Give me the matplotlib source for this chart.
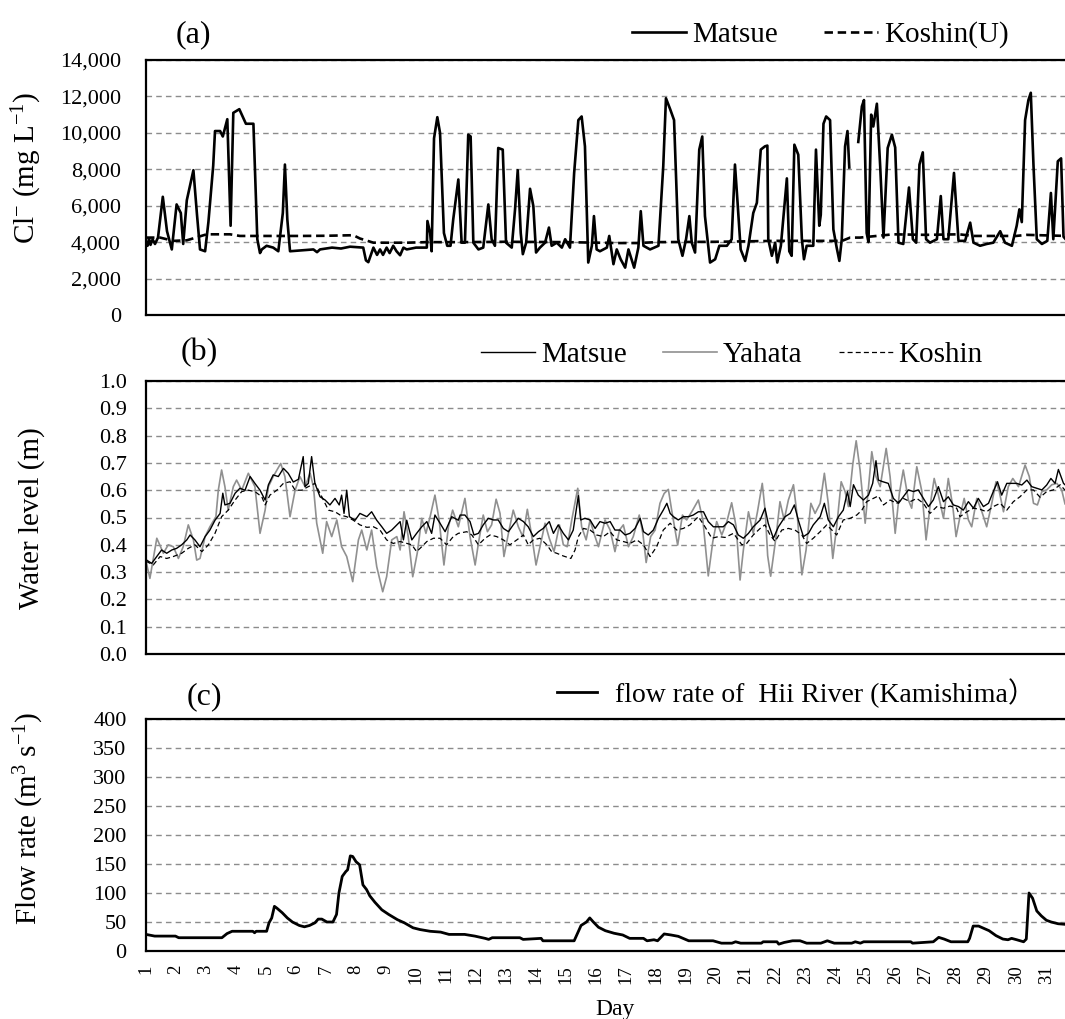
import numpy as np
import matplotlib
matplotlib.use('Agg')
import matplotlib.pyplot as plt

plt.rcParams['font.family'] = ['Liberation Serif', 'Noto Sans CJK JP']
plt.rcParams['mathtext.fontset'] = 'custom'
plt.rcParams['mathtext.rm'] = 'Liberation Serif'
plt.rcParams['mathtext.it'] = 'Liberation Serif:italic'

# ==========================================
# DATA  (day of month, value)
# ==========================================

DAY_TICKS = list(range(1, 32))
DAY_LIMITS = (1.0, 31.63)

CL_TICKS = [0, 2000, 4000, 6000, 8000, 10000, 12000, 14000]
CL_LABELS = ['0', '2,000', '4,000', '6,000', '8,000', '10,000', '12,000', '14,000']
WL_TICKS = [0.0, 0.1, 0.2, 0.3, 0.4, 0.5, 0.6, 0.7, 0.8, 0.9, 1.0]
WL_LABELS = ['0.0', '0.1', '0.2', '0.3', '0.4', '0.5', '0.6', '0.7', '0.8', '0.9', '1.0']
FLOW_TICKS = [0, 50, 100, 150, 200, 250, 300, 350, 400]
FLOW_LABELS = ['0', '50', '100', '150', '200', '250', '300', '350', '400']

# (a) chloride, mg/L
cl_matsue = [
    (1.00, 4000), (1.05, 3800), (1.10, 4200), (1.15, 3850), (1.22, 4150), (1.30, 3900),
    (1.40, 4250), (1.56, 6490), (1.70, 4600), (1.86, 3600), (2.02, 6070), (2.16, 5600),
    (2.24, 3900), (2.36, 6300), (2.58, 7950), (2.70, 5500), (2.80, 3600), (2.97, 3500),
    (3.08, 5100), (3.24, 8200), (3.30, 10100), (3.47, 10100), (3.56, 9800), (3.71, 10750),
    (3.82, 4900), (3.91, 11100), (4.11, 11300), (4.25, 10800), (4.33, 10500), (4.58, 10500),
    (4.71, 4160), (4.80, 3400), (4.86, 3600), (5.02, 3800), (5.24, 3700), (5.41, 3500),
    (5.56, 5600), (5.63, 8260), (5.71, 5250), (5.80, 3500), (6.20, 3550), (6.58, 3600),
    (6.70, 3450), (6.80, 3600), (7.20, 3700), (7.50, 3650), (7.80, 3750), (8.24, 3700),
    (8.33, 3000), (8.41, 2900), (8.58, 3700), (8.70, 3300), (8.80, 3600), (8.90, 3300),
    (9.02, 3700), (9.12, 3400), (9.24, 3800), (9.35, 3500), (9.47, 3280), (9.58, 3700),
    (9.69, 3600), (10.00, 3700), (10.36, 3700), (10.38, 5160), (10.47, 4500), (10.52, 3500),
    (10.60, 9700), (10.71, 10860), (10.80, 10000), (10.93, 4500), (11.04, 3800), (11.15, 3800),
    (11.24, 5250), (11.41, 7440), (11.52, 3970), (11.63, 3970), (11.74, 9900), (11.82, 9800),
    (11.91, 3970), (12.08, 3600), (12.24, 3700), (12.41, 6070), (12.52, 4160), (12.63, 3800),
    (12.74, 9170), (12.89, 9080), (13.00, 3970), (13.19, 3700), (13.30, 5800), (13.39, 7950),
    (13.49, 4500), (13.56, 3340), (13.67, 3970), (13.80, 6930), (13.91, 5980), (14.00, 3430),
    (14.13, 3700), (14.30, 3970), (14.43, 4800), (14.52, 3800), (14.69, 3970), (14.86, 3700),
    (14.97, 4160), (15.13, 3700), (15.27, 7800), (15.41, 10700), (15.52, 10900), (15.63, 9260),
    (15.74, 2880), (15.86, 3800), (15.93, 5430), (16.02, 3600), (16.13, 3500), (16.36, 3700),
    (16.44, 4340), (16.58, 2790), (16.69, 3600), (16.82, 3060), (16.97, 2600), (17.08, 3600),
    (17.27, 2600), (17.41, 3700), (17.49, 5700), (17.58, 3800), (17.80, 3600), (18.08, 3800),
    (18.24, 8170), (18.33, 11900), (18.47, 11300), (18.60, 10700), (18.74, 4160), (18.88, 3250),
    (19.00, 4160), (19.11, 5430), (19.19, 3970), (19.30, 3430), (19.44, 9080), (19.54, 9800),
    (19.63, 5430), (19.80, 2880), (19.97, 3060), (20.11, 3800), (20.36, 3800), (20.52, 4160),
    (20.63, 8260), (20.71, 6340), (20.82, 3600), (20.97, 2970), (21.08, 3800), (21.24, 5600),
    (21.36, 6160), (21.49, 9080), (21.63, 9260), (21.71, 9300), (21.74, 4160), (21.86, 3250),
    (21.97, 3970), (22.04, 2880), (22.16, 3800), (22.36, 7500), (22.44, 3500), (22.52, 3250),
    (22.61, 9350), (22.74, 8800), (22.86, 4160), (22.93, 3060), (23.02, 3800), (23.24, 3800),
    (23.33, 9080), (23.44, 4900), (23.49, 5500), (23.58, 10500), (23.67, 10900), (23.80, 10700),
    (23.91, 4700), (24.02, 3700), (24.11, 2970), (24.19, 4160), (24.30, 9260), (24.38, 10100),
    (24.44, 8100), (24.50, np.nan), (24.74, 9500), (24.86, 11450), (24.93, 11800), (25.02, 4500),
    (25.08, 4000), (25.17, 11000), (25.24, 10350), (25.36, 11600), (25.47, 8170), (25.58, 4250),
    (25.72, 9170), (25.86, 9900), (25.97, 9200), (26.08, 3970), (26.24, 3900), (26.43, 7000),
    (26.56, 4160), (26.67, 3970), (26.78, 8260), (26.89, 8930), (27.00, 4160), (27.13, 3970),
    (27.36, 4160), (27.49, 6530), (27.58, 4160), (27.74, 4160), (27.93, 7800), (28.08, 4070),
    (28.30, 4070), (28.47, 5070), (28.58, 3970), (28.80, 3800), (29.02, 3900), (29.24, 3970),
    (29.47, 4600), (29.63, 3970), (29.86, 3800), (30.02, 4900), (30.11, 5800), (30.19, 5100),
    (30.30, 10700), (30.41, 11800), (30.49, 12200), (30.58, 8200), (30.69, 4160), (30.86, 3900),
    (31.04, 4070), (31.16, 6700), (31.24, 4160), (31.39, 8440), (31.50, 8600), (31.58, 4300),
    (31.63, 4200),
]

cl_koshin_u = [
    (1.00, 4250), (1.47, 4250), (1.91, 4070), (2.36, 4100), (3.02, 4430), (3.80, 4430),
    (4.13, 4340), (5.00, 4340), (6.13, 4340), (7.00, 4350), (7.91, 4380), (8.13, 4200),
    (8.58, 3970), (9.69, 3970), (10.36, 4000), (11.50, 4000), (13.00, 4020), (15.00, 4000),
    (16.70, 3950), (17.40, 3950), (18.00, 4000), (20.00, 4020), (22.00, 4070), (24.20, 4070),
    (24.47, 4250), (24.80, 4250), (25.90, 4430), (27.00, 4400), (28.10, 4430), (28.60, 4340),
    (30.00, 4340), (30.35, 4400), (31.47, 4350), (31.63, 4350),
]

# (b) water level, m
wl_matsue = [
    (1.00, 0.350), (1.02, 0.344), (1.19, 0.332), (1.36, 0.357), (1.52, 0.381), (1.69, 0.369),
    (1.86, 0.381), (2.02, 0.387), (2.19, 0.400), (2.36, 0.418), (2.47, 0.436), (2.63, 0.418),
    (2.80, 0.393), (2.97, 0.430), (3.13, 0.454), (3.30, 0.490), (3.47, 0.515), (3.56, 0.589),
    (3.63, 0.546), (3.80, 0.552), (3.97, 0.589), (4.13, 0.607), (4.30, 0.600), (4.47, 0.650),
    (4.63, 0.625), (4.80, 0.600), (4.97, 0.564), (5.08, 0.620), (5.24, 0.656), (5.41, 0.650),
    (5.58, 0.680), (5.74, 0.662), (5.91, 0.630), (6.08, 0.640), (6.24, 0.723), (6.30, 0.613),
    (6.41, 0.625), (6.52, 0.723), (6.63, 0.625), (6.80, 0.576), (6.97, 0.564), (7.13, 0.546),
    (7.30, 0.570), (7.44, 0.546), (7.52, 0.582), (7.60, 0.515), (7.69, 0.600), (7.78, 0.503),
    (7.97, 0.490), (8.13, 0.515), (8.36, 0.503), (8.52, 0.521), (8.69, 0.490), (8.86, 0.466),
    (9.02, 0.442), (9.19, 0.454), (9.36, 0.473), (9.47, 0.485), (9.58, 0.418), (9.69, 0.490),
    (9.86, 0.418), (10.02, 0.442), (10.19, 0.466), (10.36, 0.485), (10.52, 0.442), (10.63, 0.509),
    (10.80, 0.479), (10.97, 0.448), (11.19, 0.503), (11.41, 0.490), (11.47, 0.509), (11.63, 0.509),
    (11.80, 0.485), (11.93, 0.436), (12.08, 0.442), (12.24, 0.473), (12.41, 0.497), (12.58, 0.491),
    (12.74, 0.491), (12.91, 0.460), (13.08, 0.448), (13.24, 0.473), (13.41, 0.497), (13.58, 0.485),
    (13.74, 0.466), (13.91, 0.430), (14.08, 0.448), (14.24, 0.460), (14.44, 0.485), (14.58, 0.442),
    (14.74, 0.473), (14.91, 0.442), (15.08, 0.418), (15.24, 0.454), (15.41, 0.580), (15.49, 0.491),
    (15.63, 0.497), (15.80, 0.491), (15.97, 0.460), (16.13, 0.485), (16.30, 0.479), (16.47, 0.485),
    (16.63, 0.454), (16.80, 0.454), (16.97, 0.436), (17.13, 0.442), (17.30, 0.460), (17.47, 0.497),
    (17.58, 0.448), (17.74, 0.436), (17.91, 0.454), (18.08, 0.497), (18.24, 0.527), (18.36, 0.552),
    (18.47, 0.515), (18.58, 0.503), (18.74, 0.491), (18.91, 0.503), (19.08, 0.503), (19.24, 0.509),
    (19.41, 0.521), (19.58, 0.521), (19.74, 0.485), (19.91, 0.466), (20.08, 0.466), (20.24, 0.466),
    (20.41, 0.485), (20.58, 0.473), (20.74, 0.436), (20.91, 0.424), (21.08, 0.442), (21.24, 0.466),
    (21.47, 0.491), (21.63, 0.534), (21.74, 0.478), (21.91, 0.424), (22.08, 0.466), (22.30, 0.503),
    (22.47, 0.515), (22.61, 0.546), (22.74, 0.491), (22.91, 0.430), (23.08, 0.442), (23.24, 0.473),
    (23.47, 0.503), (23.61, 0.552), (23.74, 0.491), (23.91, 0.466), (24.08, 0.503), (24.24, 0.527),
    (24.38, 0.595), (24.47, 0.540), (24.58, 0.620), (24.74, 0.582), (24.91, 0.564), (25.08, 0.582),
    (25.22, 0.625), (25.33, 0.708), (25.41, 0.637), (25.56, 0.631), (25.74, 0.625), (25.91, 0.570),
    (26.08, 0.552), (26.24, 0.576), (26.41, 0.601), (26.58, 0.595), (26.74, 0.601), (26.91, 0.570),
    (27.08, 0.540), (27.24, 0.564), (27.41, 0.613), (27.58, 0.558), (27.74, 0.576), (27.91, 0.546),
    (28.08, 0.540), (28.24, 0.527), (28.41, 0.558), (28.58, 0.534), (28.74, 0.570), (28.91, 0.540),
    (29.08, 0.552), (29.24, 0.595), (29.38, 0.631), (29.52, 0.582), (29.69, 0.625), (29.86, 0.625),
    (30.02, 0.625), (30.19, 0.619), (30.36, 0.637), (30.52, 0.613), (30.69, 0.607), (30.86, 0.601),
    (31.02, 0.619), (31.16, 0.643), (31.30, 0.625), (31.41, 0.676), (31.58, 0.625), (31.63, 0.620),
]

wl_yahata = [
    (1.00, 0.340), (1.13, 0.277), (1.36, 0.424), (1.58, 0.369), (1.74, 0.400), (1.91, 0.393),
    (2.08, 0.350), (2.24, 0.393), (2.41, 0.473), (2.58, 0.418), (2.69, 0.344), (2.80, 0.350),
    (2.97, 0.430), (3.13, 0.466), (3.33, 0.503), (3.41, 0.600), (3.52, 0.674), (3.63, 0.613),
    (3.74, 0.527), (3.91, 0.613), (4.02, 0.637), (4.19, 0.600), (4.41, 0.662), (4.63, 0.613),
    (4.80, 0.442), (4.97, 0.527), (5.08, 0.613), (5.24, 0.650), (5.49, 0.698), (5.63, 0.650),
    (5.80, 0.503), (5.97, 0.600), (6.13, 0.650), (6.30, 0.613), (6.47, 0.662), (6.58, 0.613),
    (6.69, 0.479), (6.89, 0.369), (7.02, 0.485), (7.19, 0.430), (7.36, 0.491), (7.52, 0.393),
    (7.69, 0.357), (7.89, 0.265), (8.08, 0.418), (8.19, 0.454), (8.36, 0.381), (8.52, 0.454),
    (8.69, 0.320), (8.89, 0.228), (9.02, 0.283), (9.19, 0.418), (9.36, 0.430), (9.47, 0.381),
    (9.60, 0.521), (9.74, 0.430), (9.89, 0.283), (10.04, 0.369), (10.19, 0.497), (10.33, 0.442),
    (10.47, 0.503), (10.63, 0.582), (10.77, 0.491), (10.93, 0.326), (11.08, 0.466), (11.22, 0.527),
    (11.41, 0.466), (11.63, 0.570), (11.80, 0.430), (11.97, 0.326), (12.08, 0.406), (12.24, 0.509),
    (12.38, 0.448), (12.52, 0.473), (12.67, 0.567), (12.80, 0.515), (12.93, 0.357), (13.08, 0.442),
    (13.24, 0.527), (13.41, 0.466), (13.56, 0.430), (13.71, 0.530), (13.86, 0.430), (14.00, 0.326),
    (14.13, 0.393), (14.30, 0.479), (14.44, 0.424), (14.60, 0.375), (14.78, 0.473), (14.91, 0.400),
    (15.04, 0.393), (15.19, 0.491), (15.39, 0.607), (15.52, 0.466), (15.67, 0.418), (15.80, 0.491),
    (15.93, 0.442), (16.08, 0.393), (16.30, 0.491), (16.47, 0.454), (16.63, 0.375), (16.78, 0.454),
    (16.91, 0.473), (17.08, 0.393), (17.24, 0.430), (17.44, 0.509), (17.56, 0.442), (17.67, 0.335),
    (17.82, 0.430), (17.97, 0.454), (18.13, 0.552), (18.27, 0.588), (18.41, 0.603), (18.52, 0.527),
    (18.72, 0.399), (18.88, 0.509), (19.02, 0.491), (19.19, 0.521), (19.41, 0.564), (19.56, 0.491),
    (19.74, 0.286), (19.89, 0.411), (20.02, 0.485), (20.19, 0.436), (20.36, 0.485), (20.52, 0.554),
    (20.67, 0.466), (20.80, 0.271), (20.91, 0.381), (21.08, 0.521), (21.24, 0.442), (21.38, 0.521),
    (21.54, 0.625), (21.64, 0.520), (21.72, 0.360), (21.82, 0.285), (22.00, 0.430), (22.13, 0.558),
    (22.27, 0.491), (22.41, 0.564), (22.58, 0.620), (22.72, 0.491), (22.86, 0.290), (23.00, 0.381),
    (23.16, 0.552), (23.30, 0.515), (23.47, 0.552), (23.61, 0.662), (23.74, 0.552), (23.89, 0.350),
    (24.02, 0.466), (24.17, 0.631), (24.30, 0.595), (24.41, 0.540), (24.56, 0.698), (24.67, 0.781),
    (24.80, 0.674), (24.97, 0.479), (25.11, 0.644), (25.19, 0.741), (25.33, 0.650), (25.47, 0.613),
    (25.67, 0.753), (25.80, 0.650), (25.97, 0.442), (26.11, 0.589), (26.24, 0.674), (26.41, 0.564),
    (26.52, 0.534), (26.69, 0.686), (26.86, 0.595), (27.00, 0.418), (27.13, 0.540), (27.27, 0.643),
    (27.41, 0.582), (27.58, 0.497), (27.74, 0.643), (27.89, 0.540), (28.00, 0.430), (28.13, 0.503),
    (28.27, 0.570), (28.41, 0.491), (28.52, 0.466), (28.69, 0.570), (28.86, 0.521), (29.02, 0.466),
    (29.19, 0.552), (29.33, 0.631), (29.44, 0.595), (29.58, 0.521), (29.74, 0.613), (29.89, 0.643),
    (30.08, 0.613), (30.30, 0.692), (30.44, 0.650), (30.58, 0.552), (30.71, 0.546), (30.86, 0.595),
    (31.02, 0.601), (31.19, 0.620), (31.36, 0.625), (31.52, 0.601), (31.63, 0.550),
]

wl_koshin = [
    (1.00, 0.340), (1.24, 0.326), (1.47, 0.357), (1.69, 0.350), (1.91, 0.357), (2.19, 0.369),
    (2.41, 0.387), (2.63, 0.400), (2.86, 0.375), (3.08, 0.400), (3.30, 0.442), (3.52, 0.503),
    (3.74, 0.527), (3.97, 0.564), (4.19, 0.595), (4.41, 0.600), (4.63, 0.595), (4.86, 0.576),
    (4.97, 0.546), (5.13, 0.582), (5.36, 0.600), (5.58, 0.625), (5.80, 0.631), (5.97, 0.600),
    (6.19, 0.600), (6.41, 0.613), (6.63, 0.625), (6.86, 0.576), (7.08, 0.527), (7.30, 0.521),
    (7.47, 0.509), (7.69, 0.503), (7.91, 0.490), (8.13, 0.473), (8.36, 0.464), (8.58, 0.466),
    (8.80, 0.454), (9.02, 0.418), (9.24, 0.405), (9.47, 0.412), (9.69, 0.405), (9.86, 0.400),
    (10.02, 0.375), (10.19, 0.393), (10.36, 0.412), (10.58, 0.424), (10.80, 0.424), (11.02, 0.400),
    (11.24, 0.430), (11.41, 0.442), (11.69, 0.448), (11.86, 0.436), (12.08, 0.400), (12.30, 0.424),
    (12.47, 0.436), (12.69, 0.430), (12.91, 0.418), (13.13, 0.400), (13.36, 0.418), (13.58, 0.436),
    (13.74, 0.400), (13.91, 0.418), (14.13, 0.424), (14.36, 0.400), (14.52, 0.375), (14.69, 0.369),
    (14.91, 0.359), (15.16, 0.350), (15.30, 0.381), (15.41, 0.430), (15.58, 0.460), (15.80, 0.454),
    (16.02, 0.436), (16.24, 0.430), (16.47, 0.448), (16.69, 0.418), (16.91, 0.412), (17.13, 0.405),
    (17.36, 0.418), (17.58, 0.400), (17.80, 0.357), (18.02, 0.393), (18.24, 0.454), (18.47, 0.479),
    (18.69, 0.454), (18.91, 0.460), (19.13, 0.473), (19.41, 0.503), (19.63, 0.466), (19.86, 0.424),
    (20.08, 0.430), (20.30, 0.427), (20.58, 0.442), (20.86, 0.400), (21.02, 0.405), (21.24, 0.436),
    (21.47, 0.460), (21.63, 0.473), (21.80, 0.436), (21.97, 0.412), (22.19, 0.454), (22.41, 0.460),
    (22.63, 0.454), (22.86, 0.436), (23.02, 0.405), (23.24, 0.424), (23.47, 0.448), (23.69, 0.473),
    (23.86, 0.454), (24.02, 0.436), (24.24, 0.491), (24.47, 0.497), (24.69, 0.509), (24.86, 0.527),
    (25.02, 0.558), (25.24, 0.570), (25.41, 0.579), (25.58, 0.546), (25.80, 0.564), (26.02, 0.552),
    (26.24, 0.570), (26.47, 0.558), (26.69, 0.570), (26.91, 0.552), (27.13, 0.515), (27.36, 0.540),
    (27.58, 0.534), (27.80, 0.542), (28.02, 0.534), (28.13, 0.503), (28.36, 0.521), (28.58, 0.534),
    (28.80, 0.530), (29.02, 0.521), (29.24, 0.540), (29.47, 0.552), (29.69, 0.527), (29.91, 0.558),
    (30.13, 0.576), (30.36, 0.601), (30.58, 0.601), (30.80, 0.574), (31.02, 0.595), (31.24, 0.601),
    (31.47, 0.620), (31.63, 0.600),
]

# (c) flow rate of Hii River at Kamishima, m3/s
flow_kamishima = [
    (1.00, 28.6), (1.29, 25.7), (1.98, 25.7), (2.09, 22.9), (3.53, 22.9), (3.70, 30.0),
    (3.87, 34.0), (4.56, 34.0), (4.62, 31.4), (4.67, 34.0), (5.02, 34.0), (5.10, 48.6),
    (5.19, 57.0), (5.28, 77.0), (5.36, 74.0), (5.54, 66.0), (5.71, 57.0), (5.88, 50.0),
    (6.11, 44.0), (6.28, 41.7), (6.45, 44.0), (6.63, 48.6), (6.74, 55.0), (6.86, 55.0),
    (7.03, 50.0), (7.23, 50.0), (7.35, 63.0), (7.43, 100.0), (7.54, 128.6), (7.66, 137.0),
    (7.72, 140.0), (7.81, 164.0), (7.89, 163.0), (8.00, 154.0), (8.12, 148.6), (8.23, 114.0),
    (8.35, 106.0), (8.46, 95.0), (8.63, 84.0), (8.86, 71.0), (9.09, 63.0), (9.38, 54.0),
    (9.61, 48.6), (9.90, 40.0), (10.13, 37.0), (10.47, 34.0), (10.82, 32.6), (11.10, 28.6),
    (11.62, 28.6), (11.96, 25.7), (12.31, 21.7), (12.42, 20.0), (12.54, 22.9), (13.46, 22.9),
    (13.57, 20.0), (14.17, 21.8), (14.23, 17.6), (14.87, 17.6), (15.27, 17.6), (15.50, 44.0),
    (15.68, 50.0), (15.79, 57.0), (15.91, 50.0), (16.08, 41.0), (16.31, 35.0), (16.60, 30.6),
    (16.89, 27.6), (17.12, 21.8), (17.58, 21.8), (17.70, 17.6), (17.93, 19.4), (18.05, 17.6),
    (18.27, 29.4), (18.50, 27.6), (18.74, 25.3), (19.09, 17.6), (19.90, 17.6), (20.18, 13.5),
    (20.53, 13.5), (20.65, 15.9), (20.82, 13.5), (21.51, 13.5), (21.57, 15.9), (22.03, 15.9),
    (22.09, 11.8), (22.27, 14.7), (22.55, 17.6), (22.80, 17.6), (23.02, 13.5), (23.49, 13.5),
    (23.71, 17.6), (23.94, 13.5), (24.52, 13.5), (24.64, 15.9), (24.81, 13.5), (24.92, 15.9),
    (25.79, 15.9), (26.49, 15.9), (26.55, 13.5), (27.24, 15.9), (27.42, 23.5), (27.60, 20.6),
    (27.83, 15.9), (28.39, 15.9), (28.45, 21.8), (28.57, 43.0), (28.75, 43.0), (29.10, 35.0),
    (29.33, 26.5), (29.56, 20.6), (29.73, 19.4), (29.85, 21.8), (30.02, 19.4), (30.25, 15.9),
    (30.34, 20.6), (30.43, 100.0), (30.55, 91.0), (30.69, 69.0), (30.84, 60.6), (31.01, 53.0),
    (31.17, 50.0), (31.40, 47.0), (31.63, 46.0),
]

# ==========================================
# FIGURE
# ==========================================

W, H = 1065, 1019
fig = plt.figure(figsize=(W / 100, H / 100), dpi=100)

GRID_COLOR = '#8c8c8c'
YAHATA_GRAY = '#909090'


def add_panel(top, bottom):
    # panel position given in pixels of the reference picture
    return fig.add_axes([146 / W, 1 - bottom / H, 1 - 146 / W, (bottom - top) / H])


def style_panel(ax, ticks, labels, pad):
    ax.set_xlim(*DAY_LIMITS)
    ax.set_ylim(ticks[0], ticks[-1])
    ax.set_yticks(ticks)
    ax.set_yticklabels(labels, fontsize=16)
    ax.set_xticks(DAY_TICKS)
    ax.tick_params(axis='both', length=0)
    ax.tick_params(axis='y', pad=pad)
    ax.yaxis.grid(True, color=GRID_COLOR, linestyle=(0, (4, 3)), linewidth=1.0)
    for side in ['left', 'top', 'bottom']:
        ax.spines[side].set_linewidth(1.6)
        ax.spines[side].set_color('black')
    ax.spines['right'].set_visible(False)


def xy(points):
    arr = np.array(points, dtype=float)
    return arr[:, 0], arr[:, 1]


ax_a = add_panel(60, 315)
ax_b = add_panel(381, 654)
ax_c = add_panel(719, 951)

# --- (a) chloride
style_panel(ax_a, CL_TICKS, CL_LABELS, pad=18)
ax_a.set_xticklabels([])
d, v = xy(cl_matsue)
ax_a.plot(d, v, color='black', linewidth=1.9, label='Matsue')
d, v = xy(cl_koshin_u)
ax_a.plot(d, v, color='black', linewidth=1.9, linestyle=(0, (3.2, 1.8)), label='Koshin(U)')
ax_a.legend(loc='center left', bbox_to_anchor=(632 / W, 1 - 35 / H), bbox_transform=fig.transFigure,
            ncol=2, frameon=False, fontsize=21, borderpad=0, borderaxespad=0,
            handlelength=1.85, handletextpad=0.2, columnspacing=1.6)

# --- (b) water level
style_panel(ax_b, WL_TICKS, WL_LABELS, pad=14)
ax_b.set_xticklabels([])
d, v = xy(wl_yahata)
ax_b.plot(d, v, color=YAHATA_GRAY, linewidth=1.2, label='Yahata', zorder=2)
d, v = xy(wl_koshin)
ax_b.plot(d, v, color='black', linewidth=0.9, linestyle=(0, (4, 2.5)), label='Koshin', zorder=3)
d, v = xy(wl_matsue)
ax_b.plot(d, v, color='black', linewidth=1.0, label='Matsue', zorder=4)
handles, labels = ax_b.get_legend_handles_labels()
order = [2, 0, 1]
ax_b.legend([handles[i] for i in order], [labels[i] for i in order],
            loc='center left', bbox_to_anchor=(481 / W, 1 - 355 / H), bbox_transform=fig.transFigure,
            ncol=3, frameon=False, fontsize=21, borderpad=0, borderaxespad=0,
            handlelength=1.85, handletextpad=0.2, columnspacing=1.25)

# --- (c) flow rate
style_panel(ax_c, FLOW_TICKS, FLOW_LABELS, pad=14)
ax_c.set_xticklabels([str(t) for t in DAY_TICKS], rotation=90, fontsize=13.5)
ax_c.tick_params(axis='x', pad=10)
d, v = xy(flow_kamishima)
ax_c.plot(d, v, color='black', linewidth=2.0, label='flow rate of  Hii River (Kamishima\uff09')
ax_c.legend(loc='center left', bbox_to_anchor=(557 / W, 1 - 693 / H), bbox_transform=fig.transFigure,
            frameon=False, fontsize=20, borderpad=0, borderaxespad=0,
            handlelength=1.45, handletextpad=0.65)

# --- axis titles and panel letters
fig.text(27 / W, 1 - 168 / H, r'Cl$^{\mathregular{-}}$ (mg L$^{\mathregular{-1}}$)',
         rotation=90, ha='center', va='center', fontsize=21)
fig.text(32 / W, 1 - 518 / H, 'Water level (m)', rotation=90, ha='center', va='center', fontsize=21)
fig.text(29 / W, 1 - 818 / H, r'Flow rate (m$^{\mathregular{3}}$ s$^{\mathregular{-1}}$)',
         rotation=90, ha='center', va='center', fontsize=21)
fig.text(615 / W, 1 - 1009 / H, 'Day', ha='center', va='center', fontsize=17)

fig.text(193 / W, 1 - 35 / H, '(a)', ha='center', va='center', fontsize=23)
fig.text(199 / W, 1 - 353 / H, '(b)', ha='center', va='center', fontsize=23)
fig.text(204 / W, 1 - 697 / H, '(c)', ha='center', va='center', fontsize=23)

fig.savefig('out.png', dpi=100)
